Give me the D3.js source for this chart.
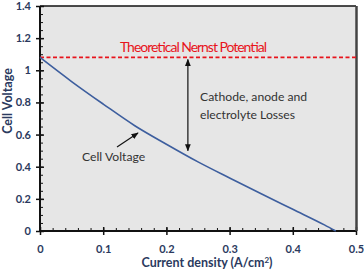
<!DOCTYPE html>
<html>
  <head>
    <title>Cell voltage vs current density</title>
    <script src="https://d3js.org/d3.v7.min.js"></script>
    <style>
      body { margin: 0; background: #fff; }
      svg text { font-family: Lato, "Open Sans", sans-serif; }
      .tick text { font-weight: bold; fill: #2b3a5e; font-size: 11px; }
    </style>
  </head>
  <body>
    <div id="chart"></div>
    <script>
      // Data
      var current = [0, 0.05, 0.1, 0.15, 0.2, 0.25, 0.3, 0.35, 0.4, 0.45, 0.468];
      var voltage = [1.08, 0.93, 0.79, 0.655, 0.54, 0.43, 0.33, 0.232, 0.135, 0.038, 0];
      var nernst = 1.08;
      var xTicks = [0, 0.1, 0.2, 0.3, 0.4, 0.5];
      var yTicks = [0, 0.2, 0.4, 0.6, 0.8, 1, 1.2, 1.4];

      var svg = d3.select("#chart").append("svg")
        .attr("width", 364).attr("height", 275);

      var x = d3.scaleLinear().domain([0, 0.5]).range([40, 356]);
      var y = d3.scaleLinear().domain([0, 1.4]).range([231, 6]);

      // plot background
      svg.append("rect")
        .attr("x", x(0)).attr("y", y(1.4))
        .attr("width", x(0.5) - x(0)).attr("height", y(0) - y(1.4))
        .attr("fill", "#e6e6e6");

      // minor ticks (inward)
      var xa = svg.append("g").attr("transform", "translate(0," + y(0) + ")");
      xa.call(d3.axisTop(x).tickValues(d3.range(0, 0.501, 0.02)).tickSize(3).tickFormat(""));
      var ya = svg.append("g").attr("transform", "translate(" + x(0) + ",0)");
      ya.call(d3.axisRight(y).tickValues(d3.range(0, 1.401, 0.05)).tickSize(3).tickFormat(""));

      // major ticks crossing the axis
      var xAxis = svg.append("g").attr("transform", "translate(0," + y(0) + ")")
        .call(d3.axisBottom(x).tickValues(xTicks).tickSizeInner(4).tickSizeOuter(0)
          .tickFormat(function(d) { return d === 0 ? "0" : d3.format(".1f")(d); }));
      xAxis.selectAll(".tick line").attr("y1", -4).attr("stroke-width", 1.5);
      xAxis.selectAll(".tick text").attr("dy", "1.4em");

      var yAxis = svg.append("g").attr("transform", "translate(" + x(0) + ",0)")
        .call(d3.axisLeft(y).tickValues(yTicks).tickSizeInner(4).tickSizeOuter(0)
          .tickFormat(function(d) { return d === 0 || d === 1 ? String(d) : d3.format(".1f")(d); }));
      yAxis.selectAll(".tick line").attr("x1", 4).attr("stroke-width", 1.5);
      yAxis.selectAll(".tick text").attr("x", -9);

      svg.selectAll(".domain").remove();
      svg.selectAll(".tick line").attr("stroke", "#111");

      // frame
      svg.append("line").attr("x1", x(0)).attr("x2", x(0.5)).attr("y1", y(0)).attr("y2", y(0))
        .attr("stroke", "#111").attr("stroke-width", 2);
      svg.append("line").attr("x1", x(0)).attr("x2", x(0)).attr("y1", y(0)).attr("y2", y(1.4))
        .attr("stroke", "#111").attr("stroke-width", 2);
      svg.append("line").attr("x1", x(0)).attr("x2", x(0.5)).attr("y1", y(1.4)).attr("y2", y(1.4))
        .attr("stroke", "#111").attr("stroke-width", 1.5);
      svg.append("line").attr("x1", x(0.5) + 0.5).attr("x2", x(0.5) + 0.5).attr("y1", y(1.4)).attr("y2", y(0))
        .attr("stroke", "#444").attr("stroke-width", 2.5);

      // Nernst potential line
      svg.append("line")
        .attr("x1", x(0)).attr("x2", x(0.5))
        .attr("y1", y(nernst)).attr("y2", y(nernst))
        .attr("stroke", "#e8141c").attr("stroke-width", 1.8)
        .attr("stroke-dasharray", "4,2.5");

      // cell voltage curve
      var line = d3.line()
        .x(function(d, i) { return x(current[i]); })
        .y(function(d, i) { return y(voltage[i]); })
        .curve(d3.curveMonotoneX);
      svg.append("path")
        .datum(voltage)
        .attr("d", line)
        .attr("fill", "none")
        .attr("stroke", "#3d5e9e")
        .attr("stroke-width", 1.6);

      // arrow markers
      var defs = svg.append("defs");
      defs.append("marker").attr("id", "ah")
        .attr("viewBox", "0 0 10 10").attr("refX", 9).attr("refY", 5)
        .attr("markerWidth", 6).attr("markerHeight", 6).attr("orient", "auto-start-reverse")
        .append("path").attr("d", "M0,1 L10,5 L0,9 Z").attr("fill", "#111");

      // losses arrow
      svg.append("line")
        .attr("x1", x(0.234)).attr("x2", x(0.234))
        .attr("y1", y(nernst) + 2).attr("y2", y(0.5))
        .attr("stroke", "#111").attr("stroke-width", 1.2)
        .attr("marker-start", "url(#ah)").attr("marker-end", "url(#ah)");

      // cell voltage arrow
      svg.append("line")
        .attr("x1", 117).attr("y1", 147).attr("x2", 138).attr("y2", 133)
        .attr("stroke", "#111").attr("stroke-width", 1.2)
        .attr("marker-end", "url(#ah)");

      // annotations
      svg.append("text").attr("x", 120).attr("y", 52)
        .attr("fill", "#e8141c").attr("font-size", "14px")
        .attr("textLength", 147)
        .text("Theoretical Nernst Potential");
      svg.append("text").attr("x", 200).attr("y", 101)
        .attr("fill", "#333").attr("font-size", "12.2px")
        .text("Cathode, anode and");
      svg.append("text").attr("x", 200).attr("y", 119)
        .attr("fill", "#333").attr("font-size", "12.2px")
        .text("electrolyte Losses");
      svg.append("text").attr("x", 82).attr("y", 161)
        .attr("fill", "#333").attr("font-size", "12.2px")
        .text("Cell Voltage");

      // axis titles
      svg.append("text")
        .attr("x", 207).attr("y", 267).attr("text-anchor", "middle")
        .attr("font-size", "12.5px").attr("font-weight", "bold").attr("fill", "#2b3a5e")
        .text("Current density (A/cm")
        .append("tspan").attr("font-size", "8px").attr("dy", "-4").text("2")
        .select(function() { return this.parentNode; })
        .append("tspan").attr("dy", "4").text(")");
      svg.append("text")
        .attr("transform", "translate(12,101) rotate(-90)")
        .attr("text-anchor", "middle")
        .attr("font-size", "12.5px").attr("font-weight", "bold").attr("fill", "#2b3a5e")
        .text("Cell Voltage");
    </script>
  </body>
</html>
